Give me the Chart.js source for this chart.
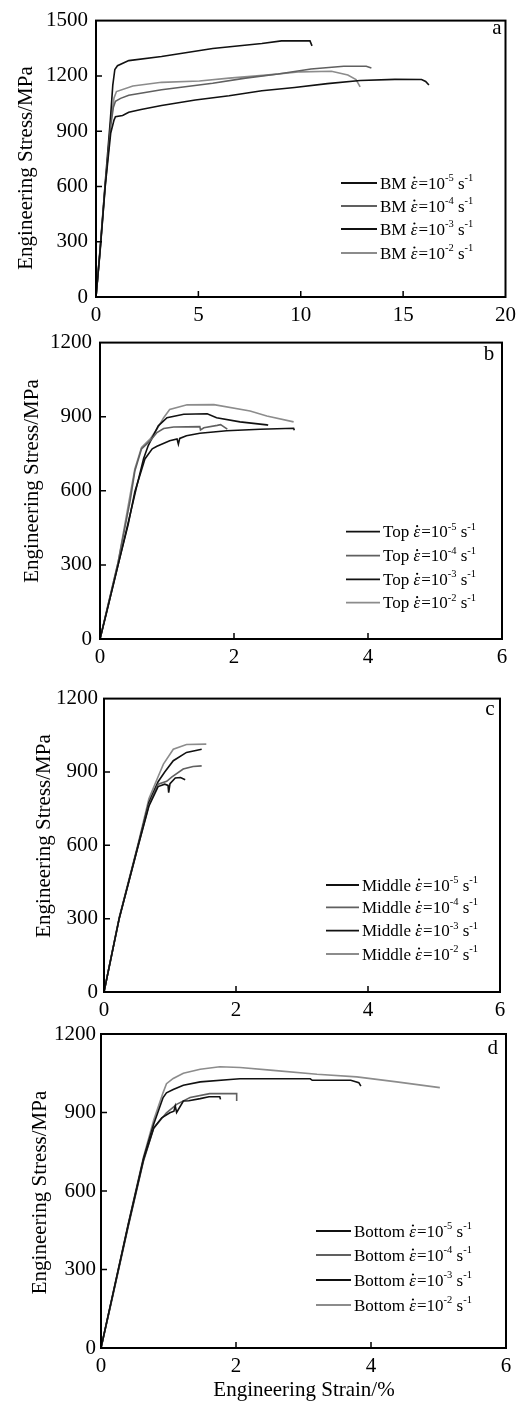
<!DOCTYPE html>
<html><head><meta charset="utf-8">
<script src="https://cdn.jsdelivr.net/npm/chart.js@4.4.0/dist/chart.umd.min.js"></script>
<style>
html,body{margin:0;padding:0;background:#fff;}
body{width:522px;height:1401px;position:relative;overflow:hidden;}
canvas{position:absolute;left:0;}
</style></head><body>
<canvas id="ca" width="522" height="340" style="top:0px"></canvas>
<canvas id="cb" width="522" height="348" style="top:322px"></canvas>
<canvas id="cc" width="522" height="340" style="top:680px"></canvas>
<canvas id="cd" width="522" height="385" style="top:1016px"></canvas>
<script>
// ---------- DATA ----------
const rateExponents = ['-5', '-4', '-3', '-2'];
const stressTitle = 'Engineering Stress/MPa';
const strainTitle = 'Engineering Strain/%';

// Panel a – BM
const bmStrainTicks = [0, 5, 10, 15, 20];
const bmStressTicks = [0, 300, 600, 900, 1200, 1500];
const bm_1e5 = [[0,0],[0.2,250],[0.45,600],[0.72,890],[0.88,960],[0.95,978],[1.3,985],[1.6,1003],[2.2,1018],[3.2,1039],[4.85,1069],[6.5,1092],[8.1,1119],[9.7,1137],[11.3,1158],[12.9,1175],[14.6,1181],[15.9,1180],[16.1,1170],[16.26,1150]];
const bm_1e4 = [[0,0],[0.2,255],[0.45,610],[0.72,930],[0.85,1030],[0.95,1062],[1.2,1078],[1.6,1095],[3.2,1125],[5.7,1160],[7.3,1188],[8.9,1210],[10.5,1237],[12.1,1252],[13.2,1252],[13.45,1243]];
const bm_1e3 = [[0,0],[0.2,260],[0.45,620],[0.7,960],[0.82,1150],[0.92,1235],[1.05,1255],[1.6,1283],[3.2,1305],[5.7,1349],[8.1,1376],[9.06,1390],[10.45,1390],[10.55,1363]];
const bm_1e2 = [[0,0],[0.2,245],[0.45,600],[0.72,950],[0.88,1080],[1.0,1115],[1.8,1145],[3.2,1165],[5.05,1172],[6.5,1188],[8.3,1204],[10.0,1222],[11.5,1225],[12.3,1205],[12.7,1180],[12.9,1140]];

// Panels b–d – Top / Middle / Bottom
const zoneStrainTicks = [0, 2, 4, 6];
const zoneStressTicks = [0, 300, 600, 900, 1200];
const top_1e5 = [[0,0],[0.1,110],[0.27,300],[0.42,463],[0.52,596],[0.67,729],[0.78,770],[0.85,780],[1.04,803],[1.15,810],[1.17,789],[1.19,812],[1.29,823],[1.49,833],[1.89,843],[2.39,849],[2.89,853],[2.9,845]];
const top_1e4 = [[0,0],[0.1,115],[0.27,310],[0.45,560],[0.52,680],[0.62,770],[0.75,803],[0.85,836],[0.95,852],[1.1,858],[1.49,860],[1.5,846],[1.55,855],[1.75,865],[1.8,868],[1.9,850]];
const top_1e3 = [[0,0],[0.1,110],[0.27,300],[0.42,470],[0.55,620],[0.65,730],[0.72,783],[0.87,863],[1.0,896],[1.25,910],[1.6,912],[1.74,896],[2.09,879],[2.49,867],[2.51,865]];
const top_1e2 = [[0,0],[0.1,115],[0.27,310],[0.45,583],[0.52,689],[0.62,776],[0.75,810],[0.85,850],[0.95,896],[1.04,929],[1.3,948],[1.7,949],[2.24,923],[2.49,903],[2.89,879]];

const mid_1e5 = [[0,0],[0.23,300],[0.52,600],[0.68,760],[0.82,840],[0.92,850],[0.97,845],[0.98,815],[1.0,852],[1.08,875],[1.16,877],[1.23,868]];
const mid_1e4 = [[0,0],[0.23,300],[0.52,600],[0.68,765],[0.82,850],[0.95,862],[1.03,880],[1.2,912],[1.35,922],[1.48,925]];
const mid_1e3 = [[0,0],[0.23,300],[0.52,605],[0.68,775],[0.82,860],[0.92,900],[1.05,946],[1.25,980],[1.48,993]];
const mid_1e2 = [[0,0],[0.23,305],[0.52,610],[0.68,790],[0.8,868],[0.9,932],[1.05,993],[1.25,1012],[1.55,1014]];

const bot_1e5 = [[0,0],[0.18,210],[0.4,465],[0.63,720],[0.78,840],[0.9,880],[1.02,899],[1.08,905],[1.1,925],[1.12,900],[1.22,944],[1.3,945],[1.47,953],[1.6,960],[1.76,960],[1.77,950]];
const bot_1e4 = [[0,0],[0.18,205],[0.4,460],[0.63,715],[0.78,840],[0.97,899],[1.12,931],[1.32,957],[1.61,972],[2.01,972],[2.01,944]];
const bot_1e3 = [[0,0],[0.18,210],[0.4,468],[0.63,725],[0.78,855],[0.92,957],[0.97,975],[1.07,988],[1.22,1004],[1.47,1017],[1.96,1027],[2.06,1029],[3.1,1029],[3.13,1023],[3.7,1023],[3.82,1014],[3.85,1001]];
const bot_1e2 = [[0,0],[0.18,212],[0.4,470],[0.63,730],[0.78,870],[0.92,976],[0.97,1010],[1.07,1030],[1.22,1050],[1.47,1065],[1.76,1075],[2.06,1072],[2.55,1061],[3.2,1046],[3.79,1036],[4.38,1017],[5.02,995]];

// ---------- STYLE / LAYOUT ----------
const FONT = '"Liberation Serif","Times New Roman",Times,serif';
const COLORS = ['#111111', '#606060', '#111111', '#8c8c8c'];
const W = 522;

const panels = [
  {id:'ca', h:340, area:{l:96,t:15,r:508,b:297}, xT:bmStrainTicks, yT:bmStressTicks,
   series:[bm_1e5,bm_1e4,bm_1e3,bm_1e2], name:'BM', letter:'a', letterPos:[497,34],
   yPad:8, ytitle:[27,168], legend:{x0:341, x1:377, rows:[183,206,229,253]}},
  {id:'cb', h:348, area:{l:100,t:17,r:502,b:317}, xT:zoneStrainTicks, yT:zoneStressTicks,
   series:[top_1e5,top_1e4,top_1e3,top_1e2], name:'Top', letter:'b', letterPos:[489,38],
   yPad:8, ytitle:[33,159], legend:{x0:346, x1:380, rows:[209.7,233.7,257.3,280.7]}},
  {id:'cc', h:340, area:{l:104,t:18,r:500,b:312}, xT:zoneStrainTicks, yT:zoneStressTicks,
   series:[mid_1e5,mid_1e4,mid_1e3,mid_1e2], name:'Middle', letter:'c', letterPos:[490,35],
   yPad:6, ytitle:[45,156], legend:{x0:326, x1:359, rows:[205,227.3,250.7,274]}},
  {id:'cd', h:385, area:{l:101,t:18,r:506,b:332}, xT:zoneStrainTicks, yT:zoneStressTicks,
   series:[bot_1e5,bot_1e4,bot_1e3,bot_1e2], name:'Bottom', letter:'d', letterPos:[492.7,38.3],
   yPad:5, ytitle:[41,176.5], xtitle:[304,380], legend:{x0:316, x1:351, rows:[215,239,264,289]}}
];

const decor = {
  id:'decor',
  afterDraw(chart){
    const p = chart.options.plugins.decor;
    const {ctx, chartArea:a} = chart;
    const xs = chart.scales.x, ys = chart.scales.y;
    ctx.save();
    ctx.strokeStyle = '#000';
    ctx.lineWidth = 1.5;
    ctx.beginPath();
    xs.ticks.forEach(t => {
      const px = xs.getPixelForValue(t.value);
      if (px > a.left + 2 && px < a.right - 2) { ctx.moveTo(px, a.bottom); ctx.lineTo(px, a.bottom - 6); }
    });
    ys.ticks.forEach(t => {
      const py = ys.getPixelForValue(t.value);
      if (py > a.top + 2 && py < a.bottom - 2) { ctx.moveTo(a.left, py); ctx.lineTo(a.left + 6, py); }
    });
    ctx.stroke();
    ctx.lineWidth = 2;
    ctx.strokeRect(a.left, a.top, a.right - a.left, a.bottom - a.top);

    ctx.fillStyle = '#000';
    ctx.font = '21px ' + FONT;
    ctx.textAlign = 'center'; ctx.textBaseline = 'alphabetic';
    ctx.fillText(p.letter, p.letterPos[0], p.letterPos[1]);
    ctx.save();
    ctx.translate(p.ytitle[0], p.ytitle[1]);
    ctx.rotate(-Math.PI/2);
    ctx.font = '21px ' + FONT;
    ctx.textAlign = 'center'; ctx.textBaseline = 'alphabetic';
    ctx.fillText(stressTitle, 0, 21*0.23);
    ctx.restore();
    if (p.xtitle) {
      ctx.font = '21px ' + FONT;
      ctx.textAlign = 'center'; ctx.textBaseline = 'alphabetic';
      ctx.fillText(strainTitle, p.xtitle[0], p.xtitle[1]);
    }
    const L = p.legend;
    chart.data.datasets.forEach((ds, i) => {
      const ry = L.rows[i];
      ctx.strokeStyle = ds.borderColor; ctx.lineWidth = 1.8;
      ctx.beginPath(); ctx.moveTo(L.x0, ry); ctx.lineTo(L.x1, ry); ctx.stroke();
      let cx = L.x1 + 3; const by = ry + 5.5;
      ctx.fillStyle = '#000'; ctx.textAlign = 'left'; ctx.textBaseline = 'alphabetic';
      const seg = (t, f, dy) => { ctx.font = f; ctx.fillText(t, cx, by + dy); const w = ctx.measureText(t).width; cx += w; return w; };
      seg(p.name + ' ', '17px ' + FONT, 0);
      const ex = cx;
      const ew = seg('\u03B5', 'italic 17px ' + FONT, 0);
      ctx.beginPath(); ctx.arc(ex + ew * 0.55, by - 11, 1.1, 0, Math.PI * 2); ctx.fill();
      cx += 1;
      seg('=10', '17px ' + FONT, 0);
      seg(rateExponents[i], '10.5px ' + FONT, -7.5);
      seg(' s', '17px ' + FONT, 0);
      seg('-1', '10.5px ' + FONT, -7.5);
    });
    ctx.restore();
  }
};

panels.forEach(p => {
  const cv = document.getElementById(p.id);
  const H = p.h;
  new Chart(cv, {
    type: 'scatter',
    data: {
      datasets: p.series.map((s, i) => ({
        label: p.name + ' 10' + rateExponents[i],
        data: s.map(([x, y]) => ({x, y})),
        showLine: true, borderColor: COLORS[i], borderWidth: 1.6,
        pointRadius: 0, tension: 0, fill: false
      }))
    },
    options: {
      responsive: false, animation: false, devicePixelRatio: 1,
      layout: {padding: {left: 0, top: p.area.t, right: W - p.area.r, bottom: 0}},
      plugins: {legend: {display: false}, tooltip: {enabled: false},
        decor: {letter: p.letter, letterPos: p.letterPos, ytitle: p.ytitle, xtitle: p.xtitle, legend: p.legend, name: p.name}},
      scales: {
        x: {type: 'linear', min: p.xT[0], max: p.xT[p.xT.length-1],
          afterBuildTicks: s => { s.ticks = p.xT.map(v => ({value: v})); },
          afterFit: s => { s.height = H - p.area.b; },
          grid: {display: false, drawTicks: false}, border: {display: false},
          ticks: {autoSkip: false, maxRotation: 0, padding: 6, color: '#000', font: {family: FONT, size: 21},
            callback: v => String(v)}},
        y: {type: 'linear', min: p.yT[0], max: p.yT[p.yT.length-1],
          afterBuildTicks: s => { s.ticks = p.yT.map(v => ({value: v})); },
          afterFit: s => { s.width = p.area.l; },
          grid: {display: false, drawTicks: false}, border: {display: false},
          ticks: {autoSkip: false, padding: p.yPad, color: '#000', font: {family: FONT, size: 21},
            callback: v => String(v)}}
      }
    },
    plugins: [decor]
  });
});
</script>
</body></html>
